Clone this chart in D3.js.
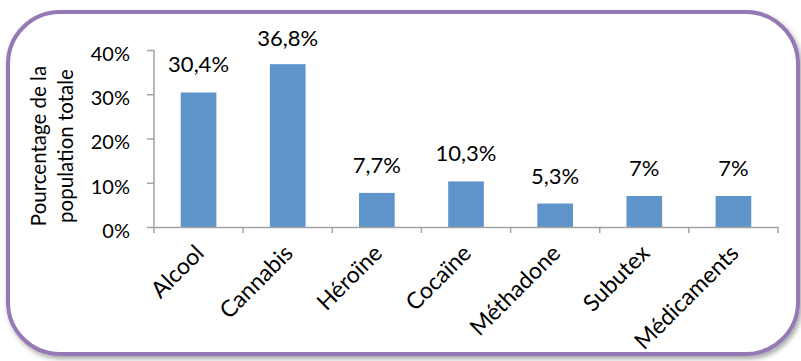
<!DOCTYPE html>
<html><head><meta charset="utf-8">
<script src="https://cdn.jsdelivr.net/npm/d3@7"></script>
<style>body{margin:0;background:#fff}svg{display:block}text{font-family:Lato,"Open Sans",sans-serif;fill:#000}</style>
</head><body><svg id="c" width="801" height="361"></svg>
<script>
const categories = ["Alcool","Cannabis","Héroïne","Cocaïne","Méthadone","Subutex","Médicaments"];
const values = [30.4, 36.8, 7.7, 10.3, 5.3, 7, 7];
const valueLabels = ["30,4%","36,8%","7,7%","10,3%","5,3%","7%","7%"];
const yTicks = [0, 10, 20, 30, 40];
const yTickLabels = ["0%","10%","20%","30%","40%"];
const yTitle = ["Pourcentage de la","population totale"];

const svg = d3.select("#c");
const defs = svg.append("defs");
const f = defs.append("filter").attr("id","sh").attr("x","-5%").attr("y","-5%").attr("width","115%").attr("height","120%");
f.append("feDropShadow").attr("dx",2).attr("dy",3).attr("stdDeviation",2.5).attr("flood-color","#000").attr("flood-opacity",0.35);

svg.append("rect").attr("x",8).attr("y",12).attr("width",790).attr("height",342).attr("rx",52).attr("ry",52)
  .attr("fill","#fff").attr("stroke","#9579B5").attr("stroke-width",4).attr("filter","url(#sh)");

const x = d3.scaleBand().domain(categories).range([154, 778]).paddingInner(0).paddingOuter(0);
const y = d3.scaleLinear().domain([0, 40]).range([227, 50]);
const bw = x.bandwidth() * 0.4;

const g = svg.append("g");
g.selectAll("rect.bar").data(values).join("rect").attr("class","bar")
  .attr("x",(d,i)=>x(categories[i]) + x.bandwidth()/2 - bw/2)
  .attr("y",d=>y(d)).attr("width",bw).attr("height",d=>y(0)-y(d))
  .attr("fill","#5F94CA");

const axisColor = "#A3A3A3";
// y axis
const yAxis = svg.append("g").attr("transform","translate(154,0)")
  .call(d3.axisLeft(y).tickValues(yTicks).tickSize(7).tickFormat((d,i)=>yTickLabels[i]).tickPadding(17));
yAxis.select(".domain").attr("stroke",axisColor).attr("stroke-width",1.5).attr("d","M0,"+y(40)+"V"+y(0));
yAxis.selectAll(".tick line").attr("stroke",axisColor).attr("stroke-width",1.5);
yAxis.selectAll(".tick text").attr("font-size",20).attr("fill","#000").attr("dy","0.52em").style("font-family","Lato");

// x axis
const xAxis = svg.append("g").attr("transform","translate(0,227)")
  .call(d3.axisBottom(x).tickSize(0).tickFormat(""));
xAxis.select(".domain").attr("stroke",axisColor).attr("stroke-width",1.5);
xAxis.selectAll(".tick").remove();
const bounds = categories.map(c=>x(c)).concat([x(categories[categories.length-1]) + x.bandwidth()]);
xAxis.selectAll("line.bt").data(bounds).join("line").attr("class","bt")
  .attr("x1",d=>d).attr("x2",d=>d).attr("y1",0).attr("y2",6).attr("stroke",axisColor).attr("stroke-width",1.5);

// category labels
svg.selectAll("text.cat").data(categories).join("text").attr("class","cat")
  .attr("transform",d=>`translate(${x(d)+x.bandwidth()/2+1},249) rotate(-45)`)
  .attr("text-anchor","end").attr("dy","0.35em").attr("font-size",23).text(d=>d);

// value labels
svg.selectAll("text.val").data(values).join("text").attr("class","val")
  .attr("x",(d,i)=>x(categories[i]) + x.bandwidth()/2)
  .attr("y",d=>Math.max(y(d) - 20, 46))
  .attr("text-anchor","middle").attr("font-size",22).text((d,i)=>valueLabels[i]);

// y title
const t = svg.append("text").attr("transform","translate(0,146) rotate(-90)").attr("text-anchor","middle").attr("font-size",20.5);
t.selectAll("tspan").data(yTitle).join("tspan").attr("x",0).attr("y",(d,i)=>46 + i*27).text(d=>d);
</script></body></html>
